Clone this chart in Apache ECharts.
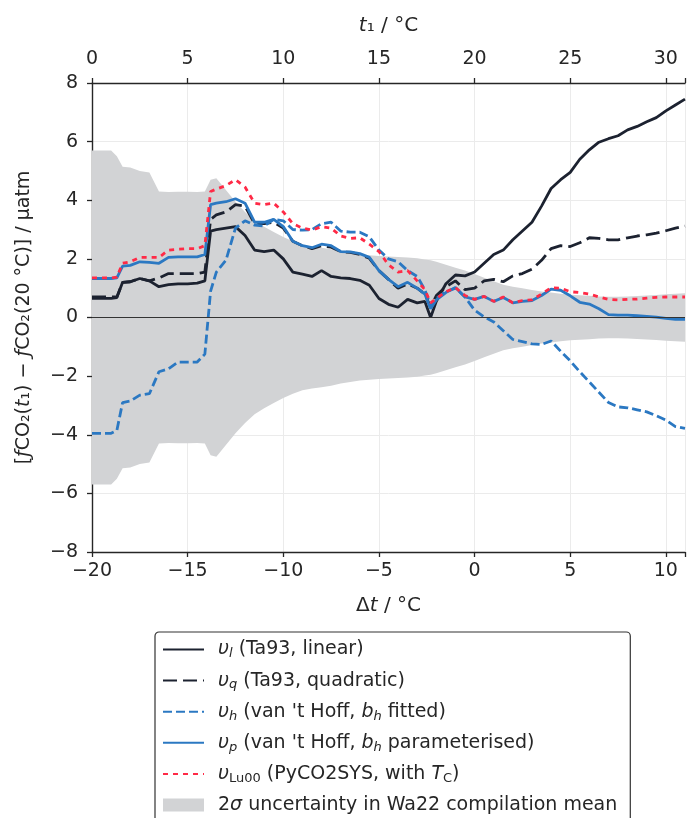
<!DOCTYPE html>
<html>
<head>
<meta charset="utf-8">
<script src="https://cdn.jsdelivr.net/npm/echarts@6/dist/echarts.min.js"></script>
<style>
  html, body { margin: 0; padding: 0; background: #fff; }
  #chart { width: 688px; height: 818px; }
</style>
</head>
<body>
<div id="chart"></div>
<script>
// Δt (°C) sample points
const dt = [-20, -19.5, -19, -18.7, -18.4, -18, -17.5, -17, -16.5, -16,
  -15.5, -15, -14.5, -14.1, -13.8, -13.5, -13, -12.5, -12, -11.5,
  -11, -10.5, -10, -9.5, -9, -8.5, -8, -7.5, -7, -6.5,
  -6, -5.5, -5, -4.5, -4, -3.5, -3, -2.6, -2.3, -2,
  -1.5, -1, -0.5, 0, 0.5, 1, 1.5, 2, 2.5, 3,
  3.5, 4, 4.5, 5, 5.5, 6, 6.5, 7, 7.5, 8,
  8.5, 9, 9.5, 10, 10.5, 11];

// υl (Ta93, linear)
const upsL = [0.65, 0.65, 0.65, 0.68, 1.2, 1.22, 1.33, 1.25, 1.05, 1.12,
  1.15, 1.15, 1.17, 1.25, 2.95, 3.0, 3.05, 3.1, 2.8, 2.3,
  2.25, 2.3, 2.0, 1.55, 1.48, 1.4, 1.6, 1.4, 1.35, 1.33,
  1.27, 1.1, 0.65, 0.45, 0.35, 0.62, 0.5, 0.55, 0.0, 0.55,
  1.15, 1.45, 1.42, 1.55, 1.85, 2.15, 2.3, 2.65, 2.95, 3.25,
  3.8, 4.4, 4.7, 4.95, 5.4, 5.72, 5.98, 6.1, 6.2, 6.4,
  6.52, 6.68, 6.82, 7.05, 7.25, 7.45];

// υq (Ta93, quadratic)
const upsQ = [0.7, 0.7, 0.7, 0.7, 1.2, 1.22, 1.33, 1.25, 1.35, 1.5,
  1.5, 1.5, 1.5, 1.55, 3.35, 3.5, 3.6, 3.85, 3.8, 3.2,
  3.2, 3.25, 3.05, 2.6, 2.45, 2.35, 2.45, 2.4, 2.25, 2.22,
  2.15, 2.02, 1.6, 1.3, 1.0, 1.15, 1.0, 0.8, 0.35, 0.75,
  1.05, 1.25, 0.95, 1.0, 1.25, 1.3, 1.22, 1.42, 1.5, 1.65,
  1.95, 2.35, 2.45, 2.42, 2.55, 2.72, 2.7, 2.65, 2.65, 2.72,
  2.78, 2.82, 2.88, 2.96, 3.05, 3.12];

// υh (van 't Hoff, bh fitted)
const upsH = [-3.95, -3.95, -3.95, -3.85, -2.9, -2.85, -2.65, -2.6, -1.85, -1.75,
  -1.52, -1.52, -1.52, -1.25, 0.9, 1.55, 1.95, 3.05, 3.3, 3.15,
  3.12, 3.35, 3.3, 3.0, 2.98, 3.0, 3.2, 3.25, 2.95, 2.91,
  2.91, 2.75, 2.3, 2.0, 1.9, 1.6, 1.4, 0.95, 0.4, 0.65,
  0.88, 1.0, 0.7, 0.25, 0.02, -0.15, -0.45, -0.75, -0.82, -0.9,
  -0.92, -0.8, -1.15, -1.48, -1.85, -2.2, -2.55, -2.9, -3.05, -3.08,
  -3.15, -3.22, -3.35, -3.5, -3.72, -3.78];

// υp (van 't Hoff, bh parameterised)
const upsP = [1.33, 1.33, 1.33, 1.35, 1.75, 1.78, 1.9, 1.88, 1.85, 2.05,
  2.07, 2.07, 2.07, 2.15, 3.85, 3.9, 3.95, 4.05, 3.9, 3.25,
  3.25, 3.35, 3.1, 2.6, 2.45, 2.38, 2.5, 2.45, 2.25, 2.24,
  2.18, 2.05, 1.6, 1.3, 1.05, 1.2, 1.0, 0.8, 0.3, 0.6,
  0.85, 1.02, 0.7, 0.62, 0.72, 0.55, 0.68, 0.5, 0.55, 0.58,
  0.75, 0.97, 0.93, 0.74, 0.52, 0.46, 0.3, 0.1, 0.08, 0.08,
  0.06, 0.04, 0.01, -0.03, -0.06, -0.06];

// υLu00 (PyCO2SYS, with TC)
const upsLu = [1.35, 1.35, 1.35, 1.38, 1.85, 1.9, 2.05, 2.05, 2.05, 2.3,
  2.33, 2.35, 2.35, 2.45, 4.3, 4.38, 4.5, 4.7, 4.45, 3.9,
  3.85, 3.9, 3.6, 3.2, 3.05, 2.98, 3.1, 3.05, 2.78, 2.7,
  2.72, 2.5, 2.25, 1.8, 1.55, 1.6, 1.25, 0.95, 0.5, 0.65,
  0.88, 1.02, 0.75, 0.62, 0.72, 0.55, 0.7, 0.5, 0.58, 0.6,
  0.8, 1.02, 1.0, 0.88, 0.85, 0.8, 0.7, 0.62, 0.6, 0.62,
  0.63, 0.66, 0.69, 0.7, 0.7, 0.7];

// 2σ half-width of the Wa22 compilation mean
const twoSigma = [5.7, 5.7, 5.7, 5.5, 5.14, 5.12, 5.0, 4.95, 4.3, 4.28,
  4.29, 4.29, 4.28, 4.3, 4.7, 4.75, 4.35, 3.95, 3.6, 3.3,
  3.1, 2.92, 2.75, 2.6, 2.48, 2.42, 2.38, 2.33, 2.25, 2.2,
  2.15, 2.12, 2.1, 2.08, 2.06, 2.05, 2.02, 1.98, 1.95, 1.9,
  1.8, 1.7, 1.6, 1.48, 1.36, 1.24, 1.12, 1.05, 1.0, 0.94,
  0.89, 0.85, 0.81, 0.78, 0.76, 0.74, 0.72, 0.71, 0.71, 0.72,
  0.73, 0.75, 0.77, 0.79, 0.81, 0.83];

const FONT = 'DejaVu Sans';
const INK = '#262626';
const DARK = '#1c2230', BLUE = '#2b78c2', RED = '#ff2a46', GREY = '#d2d3d5';

const pairs = ys => dt.map((x, i) => [x, ys[i]]);
const minus = v => String(v).replace('-', '\u2212');

const legendText = {
  ul: '{u|υ}{s|l} (Ta93, linear)',
  uq: '{u|υ}{s|q} (Ta93, quadratic)',
  uh: '{u|υ}{s|h} (van \'t Hoff, {i|b}{s|h} fitted)',
  up: '{u|υ}{s|p} (van \'t Hoff, {i|b}{s|h} parameterised)',
  ulu: '{u|υ}{r|Lu00} (PyCO2SYS, with {i|T}{r|C})',
  band: '2{i|σ} uncertainty in Wa22 compilation mean'
};

function lineSeries(name, ys, color, type, z) {
  return {
    name: name, type: 'line', data: pairs(ys), symbol: 'none', showSymbol: false,
    lineStyle: { color: color, width: 2.8, type: type },
    itemStyle: { color: color }, z: z, animation: false
  };
}

const chart = echarts.init(document.getElementById('chart'));

const axisCommon = {
  type: 'value',
  axisLine: { show: true, onZero: false, lineStyle: { color: INK, width: 1.4 } },
  axisTick: { show: true, inside: false, length: 5, lineStyle: { color: INK, width: 1.3 } },
  nameLocation: 'middle',
  nameTextStyle: {
    fontFamily: FONT, fontSize: 20, color: INK,
    rich: { i: { fontFamily: FONT, fontSize: 20, color: INK, fontStyle: 'italic' } }
  }
};

const option = {
  animation: false,
  backgroundColor: '#fff',
  grid: { left: 92, right: 0, top: 83, bottom: 266 },
  xAxis: [
    Object.assign({}, axisCommon, {
      position: 'bottom', min: -20, max: 11, interval: 5,
      name: 'Δ{i|t} / °C', nameGap: 44,
      axisLabel: {
        fontFamily: FONT, fontSize: 19, color: INK, margin: 10,
        formatter: v => (v % 5 === 0 ? minus(v) : '')
      },
      splitLine: { show: true, lineStyle: { color: '#ebebeb', width: 1 } }
    }),
    Object.assign({}, axisCommon, {
      position: 'top', min: -20, max: 11, interval: 5,
      name: '{i|t}₁ / °C', nameGap: 47,
      axisLabel: {
        fontFamily: FONT, fontSize: 19, color: INK, margin: 14,
        formatter: v => (v % 5 === 0 ? String(v + 20) : '')
      },
      splitLine: { show: false }
    })
  ],
  yAxis: Object.assign({}, axisCommon, {
    min: -8, max: 8, interval: 2,
    name: '[{i|ƒ}CO₂({i|t}₁) − {i|ƒ}CO₂(20 °C)] / µatm', nameGap: 58, nameRotate: 90,
    nameTextStyle: {
      fontFamily: FONT, fontSize: 19, color: INK,
      rich: { i: { fontFamily: FONT, fontSize: 19, color: INK, fontStyle: 'italic' } }
    },
    axisLabel: {
      fontFamily: FONT, fontSize: 19, color: INK, margin: 14,
      formatter: v => minus(v)
    },
    splitLine: { show: true, lineStyle: { color: '#ebebeb', width: 1 } }
  }),
  legend: {
    orient: 'vertical', left: 155, top: 632, height: 260,
    itemWidth: 41, itemHeight: 13, itemGap: 10.6,
    padding: [8, 13, 12, 7],
    borderColor: '#333', borderWidth: 1.2, borderRadius: 4,
    backgroundColor: '#fff', selectedMode: false,
    itemStyle: { opacity: 0 },
    data: ['ul', 'uq', 'uh', 'up', 'ulu',
      { name: 'band', icon: 'rect', itemStyle: { color: GREY, opacity: 1 } }],
    formatter: n => legendText[n],
    textStyle: {
      fontFamily: FONT, fontSize: 19, color: INK, padding: [0, 0, 0, 9],
      rich: {
        u: { fontFamily: FONT, fontSize: 19, color: INK, fontStyle: 'italic' },
        i: { fontFamily: FONT, fontSize: 19, color: INK, fontStyle: 'italic' },
        s: { fontFamily: FONT, fontSize: 13, color: INK, fontStyle: 'italic', padding: [9, 0, 0, 0] },
        r: { fontFamily: FONT, fontSize: 13, color: INK, padding: [9, 0, 0, 0] }
      }
    }
  },
  series: [
    {
      name: 'band', type: 'custom', z: 1, silent: true,
      data: dt.map((x, i) => [x, -twoSigma[i], twoSigma[i]]),
      encode: { x: 0, y: [1, 2] },
      itemStyle: { color: GREY },
      renderItem: function (params, api) {
        if (params.dataIndex !== 0) return;
        const upper = dt.map((x, i) => api.coord([x, twoSigma[i]]));
        const lower = dt.map((x, i) => api.coord([x, -twoSigma[i]])).reverse();
        return { type: 'polygon', shape: { points: upper.concat(lower) }, style: { fill: GREY } };
      },
      markLine: {
        silent: true, symbol: 'none', label: { show: false },
        lineStyle: { color: '#333', width: 1.2, type: 'solid' },
        data: [{ yAxis: 0 }]
      }
    },
    lineSeries('ul', upsL, DARK, 'solid', 3),
    lineSeries('uq', upsQ, DARK, [14, 6], 3),
    lineSeries('uh', upsH, BLUE, [9, 4], 4),
    lineSeries('up', upsP, BLUE, 'solid', 4),
    lineSeries('ulu', upsLu, RED, [5, 5], 5)
  ]
};

chart.setOption(option);
</script>
</body>
</html>
